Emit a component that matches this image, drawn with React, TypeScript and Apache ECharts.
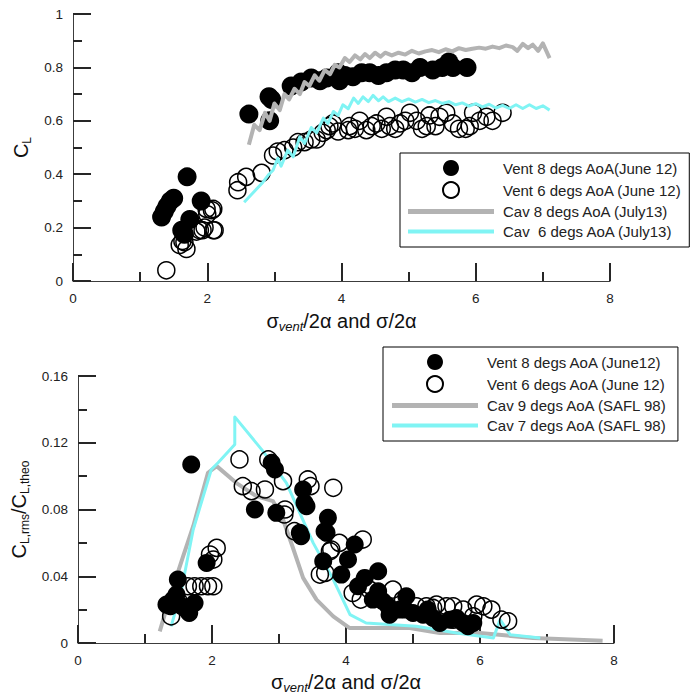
import React, { useEffect, useRef } from "react";
import * as echarts from "echarts";

const FONT = "'Liberation Sans', Arial, Helvetica, sans-serif";
const GRAY = "#b3b3b3";
const CYAN = "#80f4f4";
const AXIS = "#3c3c3c";
const TICK = "#262626";

// ---------- names ----------
const topNames = [
  "Vent 8 degs AoA(June 12)",
  "Vent 6 degs AoA (June 12)",
  "Cav 8 degs AoA (July13)",
  "Cav  6 degs AoA (July13)",
];
const bottomNames = [
  "Vent 8 degs AoA (June12)",
  "Vent 6 degs AoA (June 12)",
  "Cav 9 degs AoA (SAFL 98)",
  "Cav 7 degs AoA (SAFL 98)",
];

// ---------- axis ranges ----------
const xRange = [0, 8, 2];
const topYRange = [0, 1, 0.2];
const bottomYRange = [0, 0.16, 0.04];

// ---------- top chart data (C_L) ----------
const topVent8 = [
  [1.32, 0.24], [1.36, 0.26], [1.4, 0.28], [1.45, 0.3], [1.5, 0.31], [1.7, 0.39],
  [1.91, 0.3], [1.74, 0.23], [1.62, 0.19], [1.66, 0.175], [2.62, 0.625], [2.92, 0.69],
  [2.96, 0.68], [2.93, 0.6], [3.25, 0.73], [3.4, 0.745], [3.55, 0.76], [3.68, 0.75],
  [3.78, 0.76], [3.95, 0.78], [3.97, 0.75], [4.05, 0.77], [4.17, 0.765], [4.3, 0.78],
  [4.42, 0.78], [4.55, 0.77], [4.67, 0.78], [4.8, 0.79], [4.92, 0.79], [5.05, 0.78],
  [5.17, 0.8], [5.36, 0.79], [5.5, 0.8], [5.6, 0.82], [5.66, 0.8], [5.87, 0.8],
];
const topVent6 = [
  [1.39, 0.04], [1.59, 0.135], [1.66, 0.145], [1.69, 0.12], [1.63, 0.15], [1.84, 0.185],
  [1.89, 0.19], [1.96, 0.2], [1.93, 0.19], [2.09, 0.19], [2.11, 0.19], [2.0, 0.25],
  [1.99, 0.27], [2.07, 0.265], [2.09, 0.27], [2.45, 0.34], [2.46, 0.37], [2.58, 0.39],
  [2.81, 0.405], [2.98, 0.47], [3.05, 0.485], [3.15, 0.49], [3.28, 0.5], [3.35, 0.52],
  [3.45, 0.52], [3.55, 0.53], [3.63, 0.53], [3.72, 0.555], [3.78, 0.565], [3.82, 0.58],
  [3.87, 0.59], [3.95, 0.56], [4.1, 0.565], [4.12, 0.58], [4.2, 0.57], [4.27, 0.6],
  [4.37, 0.565], [4.45, 0.58], [4.52, 0.59], [4.6, 0.57], [4.67, 0.615], [4.72, 0.58],
  [4.8, 0.57], [4.87, 0.59], [4.95, 0.6], [5.02, 0.63], [5.12, 0.6], [5.2, 0.57],
  [5.27, 0.58], [5.31, 0.62], [5.4, 0.58], [5.46, 0.615], [5.56, 0.63], [5.66, 0.59],
  [5.75, 0.57], [5.85, 0.57], [5.91, 0.58], [5.96, 0.63], [6.06, 0.6], [6.16, 0.615],
  [6.25, 0.6], [6.4, 0.63],
];
const topCav8 = [
  [2.62, 0.51], [2.7, 0.585], [2.78, 0.565], [2.86, 0.63], [2.93, 0.6], [3.0, 0.665],
  [3.08, 0.64], [3.15, 0.7], [3.22, 0.68], [3.3, 0.72], [3.38, 0.7], [3.45, 0.745],
  [3.52, 0.73], [3.6, 0.77], [3.67, 0.75], [3.75, 0.79], [3.83, 0.775], [3.9, 0.81],
  [3.97, 0.8], [4.05, 0.835], [4.12, 0.82], [4.2, 0.845], [4.28, 0.83], [4.35, 0.85],
  [4.42, 0.835], [4.5, 0.855], [4.58, 0.84], [4.65, 0.855], [4.75, 0.845], [4.85, 0.855],
  [4.95, 0.848], [5.05, 0.862], [5.15, 0.852], [5.25, 0.86], [5.35, 0.865], [5.45, 0.857],
  [5.55, 0.868], [5.65, 0.86], [5.75, 0.872], [5.85, 0.865], [5.95, 0.87], [6.05, 0.874],
  [6.15, 0.87], [6.25, 0.878], [6.35, 0.872], [6.45, 0.882], [6.55, 0.876], [6.62, 0.862],
  [6.7, 0.888], [6.78, 0.872], [6.85, 0.885], [6.93, 0.862], [7.0, 0.89], [7.1, 0.835],
];
const topCav6 = [
  [2.55, 0.295], [2.7, 0.335], [2.83, 0.37], [2.92, 0.4], [2.98, 0.415], [3.05, 0.46],
  [3.1, 0.43], [3.2, 0.49], [3.28, 0.465], [3.38, 0.54], [3.45, 0.515], [3.55, 0.575],
  [3.63, 0.555], [3.73, 0.61], [3.8, 0.59], [3.88, 0.635], [3.95, 0.62], [4.02, 0.66],
  [4.1, 0.645], [4.18, 0.685], [4.25, 0.665], [4.32, 0.69], [4.4, 0.672], [4.47, 0.695],
  [4.55, 0.675], [4.62, 0.69], [4.7, 0.672], [4.8, 0.685], [4.9, 0.672], [5.0, 0.682],
  [5.1, 0.67], [5.2, 0.68], [5.3, 0.668], [5.4, 0.676], [5.5, 0.665], [5.6, 0.672],
  [5.7, 0.66], [5.8, 0.667], [5.9, 0.655], [6.0, 0.664], [6.1, 0.652], [6.2, 0.662],
  [6.3, 0.648], [6.4, 0.658], [6.5, 0.646], [6.6, 0.66], [6.7, 0.646], [6.8, 0.66],
  [6.9, 0.646], [7.0, 0.656], [7.1, 0.64],
];

// ---------- bottom chart data (C_L,rms / C_L,theo) ----------
const botVent8 = [
  [1.32, 0.023], [1.38, 0.022], [1.42, 0.026], [1.47, 0.029], [1.49, 0.038], [1.55, 0.022],
  [1.62, 0.02], [1.66, 0.018], [1.74, 0.024], [1.69, 0.107], [1.92, 0.048], [2.64, 0.08],
  [2.89, 0.108], [2.94, 0.104], [2.96, 0.078], [3.31, 0.066], [3.33, 0.064], [3.36, 0.092],
  [3.38, 0.084], [3.41, 0.082], [3.66, 0.049], [3.68, 0.067], [3.71, 0.066], [3.73, 0.075],
  [3.93, 0.041], [4.03, 0.05], [4.13, 0.059], [4.18, 0.034], [4.28, 0.039], [4.4, 0.026],
  [4.48, 0.043], [4.48, 0.031], [4.55, 0.025], [4.63, 0.022], [4.65, 0.017], [4.8, 0.02],
  [4.88, 0.02], [4.9, 0.028], [5.0, 0.018], [5.15, 0.017], [5.22, 0.02], [5.3, 0.015],
  [5.4, 0.012], [5.55, 0.014], [5.65, 0.015], [5.75, 0.012], [5.82, 0.01], [5.9, 0.012],
];
const botVent6 = [
  [1.39, 0.016], [1.5, 0.025], [1.64, 0.034], [1.74, 0.034], [1.84, 0.034], [1.94, 0.034],
  [2.02, 0.034], [1.97, 0.053], [2.02, 0.05], [2.07, 0.057], [2.41, 0.11], [2.46, 0.094],
  [2.59, 0.091], [2.79, 0.092], [2.84, 0.11], [3.06, 0.097], [3.09, 0.08], [3.08, 0.077],
  [3.23, 0.067], [3.43, 0.098], [3.47, 0.094], [3.61, 0.041], [3.69, 0.042], [3.76, 0.055],
  [3.78, 0.056], [3.81, 0.093], [3.9, 0.06], [4.1, 0.03], [4.22, 0.026], [4.25, 0.062],
  [4.35, 0.032], [4.7, 0.032], [4.85, 0.026], [5.05, 0.022], [5.2, 0.022], [5.3, 0.021],
  [5.35, 0.023], [5.5, 0.022], [5.6, 0.022], [5.6, 0.014], [5.75, 0.02], [5.9, 0.016],
  [5.95, 0.023], [6.05, 0.022], [6.17, 0.02], [6.32, 0.014], [6.42, 0.013],
];
const botCav9 = [
  [1.22, 0.007], [1.39, 0.03], [1.57, 0.052], [1.72, 0.07], [1.94, 0.102], [2.07, 0.106],
  [2.36, 0.096], [2.66, 0.088], [2.91, 0.085], [3.06, 0.074], [3.2, 0.058], [3.36, 0.039],
  [3.56, 0.026], [3.81, 0.016], [4.05, 0.009], [4.95, 0.009], [5.4, 0.006], [6.0, 0.006],
  [6.79, 0.003], [7.83, 0.0014],
];
const botCav7 = [
  [1.39, 0.01], [1.54, 0.031], [1.72, 0.068], [1.99, 0.104], [2.09, 0.108], [2.34, 0.119],
  [2.34, 0.1355], [2.76, 0.115], [3.11, 0.096], [3.31, 0.078], [3.51, 0.06], [3.81, 0.038],
  [4.06, 0.017], [4.3, 0.012], [4.7, 0.011], [5.05, 0.01], [5.65, 0.006], [6.2, 0.003],
  [6.3, 0.014], [6.45, 0.005], [6.9, 0.003],
];

const richTitle = {
  m: { fontSize: 20, fontFamily: FONT, color: "#111", lineHeight: 24 },
  s: { fontSize: 12, fontFamily: FONT, color: "#111", lineHeight: 10, verticalAlign: "bottom" },
  si: { fontSize: 13, fontFamily: FONT, fontStyle: "italic", color: "#111", lineHeight: 10, verticalAlign: "bottom" },
};

const xTitle = "{m|σ}{si|vent}{m|/2α and σ/2α}";

function makeAxis(range: number[]) {
  return {
    type: "value",
    min: range[0],
    max: range[1],
    interval: range[2],
    axisLine: { show: true, onZero: false, lineStyle: { color: AXIS, width: 1 } },
    axisTick: { show: true, inside: true, length: 18, lineStyle: { color: TICK, width: 2 } },
    minorTick: { show: true, splitNumber: 2, length: 9, lineStyle: { color: TICK, width: 2 } },
    splitLine: { show: false },
    minorSplitLine: { show: false },
    axisLabel: { color: "#222", fontSize: 13.5, fontFamily: FONT, margin: 10 },
  };
}

function makeLegend(names: string[], left: number, top: number, padding: number[]) {
  return {
    orient: "vertical",
    left,
    top,
    selectedMode: false,
    itemWidth: 86,
    itemHeight: 16,
    itemGap: 5,
    padding,
    borderColor: "#000",
    borderWidth: 1,
    backgroundColor: "#fff",
    textStyle: { fontSize: 15, fontFamily: FONT, color: "#222", padding: [0, 0, 0, 4] },
    data: [
      { name: names[0] },
      { name: names[1] },
      { name: names[2], icon: "path://M0 0H86V5H0Z", itemStyle: { color: GRAY } },
      { name: names[3], icon: "path://M0 0H86V4H0Z", itemStyle: { color: CYAN } },
    ],
  };
}

const filled = (name: string, data: number[][], xi: number, size: number, z: number) => ({
  type: "scatter",
  name,
  xAxisIndex: xi,
  yAxisIndex: xi,
  data,
  symbol: "circle",
  symbolSize: size,
  z,
  itemStyle: { color: "#000", borderColor: "#000", borderWidth: 0, opacity: 1 },
});
const open = (name: string, data: number[][], xi: number, size: number, z: number) => ({
  type: "scatter",
  name,
  xAxisIndex: xi,
  yAxisIndex: xi,
  data,
  symbol: "circle",
  symbolSize: size,
  z,
  itemStyle: { color: "rgba(255,255,255,0)", borderColor: "#000", borderWidth: 1.5, opacity: 1 },
});
const line = (name: string, data: number[][], xi: number, color: string, width: number, z: number) => ({
  type: "line",
  name,
  xAxisIndex: xi,
  yAxisIndex: xi,
  data,
  symbol: "none",
  showSymbol: false,
  z,
  lineStyle: { color, width, join: "round" },
  itemStyle: { color },
});

export default function App() {
  const ref = useRef<HTMLDivElement>(null);
  useEffect(() => {
    const chart = echarts.init(ref.current as HTMLDivElement, null, { renderer: "svg" });
    const option = {
      animation: false,
      backgroundColor: "#fff",
      grid: [
        { left: 73, top: 14, width: 537, height: 267, containLabel: false },
        { left: 78, top: 376, width: 536, height: 267, containLabel: false },
      ],
      xAxis: [
        {
          ...makeAxis(xRange),
          gridIndex: 0,
          name: xTitle,
          nameLocation: "middle",
          nameGap: 28,
          nameTextStyle: { rich: richTitle },
        },
        {
          ...makeAxis(xRange),
          gridIndex: 1,
          name: xTitle,
          nameLocation: "middle",
          nameGap: 27,
          nameTextStyle: { rich: richTitle },
        },
      ],
      yAxis: [
        {
          ...makeAxis(topYRange),
          gridIndex: 0,
          name: "{m|C}{s|L}",
          nameLocation: "middle",
          nameRotate: 90,
          nameGap: 35,
          nameTextStyle: { rich: richTitle },
        },
        {
          ...makeAxis(bottomYRange),
          gridIndex: 1,
          name: "{m|C}{s|L,rms}{m|/C}{s|L,theo}",
          nameLocation: "middle",
          nameRotate: 90,
          nameGap: 46,
          nameTextStyle: { rich: richTitle },
        },
      ],
      legend: [
        makeLegend(topNames, 400, 153, [7, 7, 8, 8]),
        makeLegend(bottomNames, 383, 347, [7, 10, 8, 9]),
      ],
      series: [
        filled(topNames[0], topVent8, 0, 19, 2),
        open(topNames[1], topVent6, 0, 17, 2),
        line(topNames[2], topCav8, 0, GRAY, 4, 3),
        line(topNames[3], topCav6, 0, CYAN, 3, 3),
        line(bottomNames[2], botCav9, 1, GRAY, 4, 2),
        line(bottomNames[3], botCav7, 1, CYAN, 3, 2),
        filled(bottomNames[0], botVent8, 1, 18, 3),
        open(bottomNames[1], botVent6, 1, 17, 3),
      ],
    };
    chart.setOption(option as any);
    return () => chart.dispose();
  }, []);
  return (
    <div
      ref={ref}
      style={{ position: "fixed", left: 0, top: 0, width: 696, height: 698, background: "#fff" }}
    />
  );
}
